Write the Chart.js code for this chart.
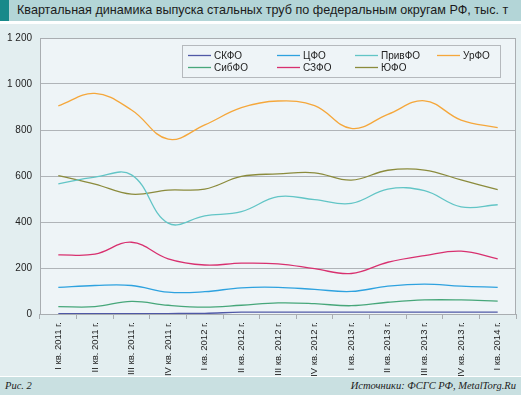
<!DOCTYPE html>
<html>
<head>
<meta charset="utf-8">
<script src="https://cdn.jsdelivr.net/npm/chart.js@4.4.0/dist/chart.umd.min.js"></script>
<style>
    body { margin: 0; background: #ffffff; width: 521px; height: 395px; overflow: hidden; position: relative; font-family: "Liberation Sans", Arial, sans-serif; }
    #title { position: absolute; left: 0; top: 0; width: 521px; height: 21px; background: #b3d5d7; }
    #title .sq { position: absolute; left: 0; top: 0; width: 9px; height: 21px; background: #17898a; }
    #title .txt { position: absolute; left: 17px; top: 3px; font-size: 12.6px; color: #1b1b1b; white-space: nowrap; }
    #wrap { position: absolute; left: 0; top: 24px; width: 521px; height: 352px; background: #e3eef0; }
    #foot { position: absolute; left: 0; top: 377px; width: 521px; height: 18px; background: #c9e0e1; font-family: "Liberation Serif", "Times New Roman", serif; font-style: italic; font-size: 10.5px; color: #222; }
    #foot .l { position: absolute; left: 5px; top: 3px; }
    #foot .r { position: absolute; right: 5px; top: 3px; }
</style>
</head>
<body>
<div id="title"><div class="sq"></div><div class="txt">Квартальная динамика выпуска стальных труб по федеральным округам РФ, тыс. т</div></div>
<div id="wrap"><canvas id="chart" width="521" height="352"></canvas></div>
<div id="foot"><span class="l">Рис. 2</span><span class="r">Источники: ФСГС РФ, MetalTorg.Ru</span></div>
<script>
// quarters
let quarters = [
    "I кв. 2011 г.", "II кв. 2011 г.", "III кв. 2011 г.", "IV кв. 2011 г.",
    "I кв. 2012 г.", "II кв. 2012 г.", "III кв. 2012 г.", "IV кв. 2012 г.",
    "I кв. 2013 г.", "II кв. 2013 г.", "III кв. 2013 г.", "IV кв. 2013 г.",
    "I кв. 2014 г."
];

// output by district, thousand tonnes
let SKFO   = [2, 2, 2, 2, 3, 8, 8, 8, 8, 8, 8, 8, 8];
let CFO    = [116, 124, 124, 95, 97, 114, 116, 107, 98, 121, 130, 121, 116];
let PrivFO = [566, 595, 605, 395, 427, 445, 510, 497, 481, 543, 536, 466, 475];
let UrFO   = [905, 959, 887, 760, 822, 897, 926, 906, 807, 868, 927, 843, 810];
let SibFO  = [32, 32, 55, 38, 30, 38, 48, 45, 36, 51, 61, 61, 56];
let SZFO   = [257, 260, 312, 240, 213, 221, 218, 197, 176, 225, 254, 273, 240];
let UFO    = [602, 565, 521, 539, 543, 598, 609, 614, 582, 625, 626, 583, 541];

let yTicks = [0, 200, 400, 600, 800, 1000, 1200];

function line(label, data, color)
{
    return {
        label: label,
        data: data,
        borderColor: color,
        backgroundColor: color,
        borderWidth: 1.3,
        pointRadius: 0,
        tension: 0.4,
        fill: false
    };
}

// plot background and frame
let frame = {
    id: "frame",
    beforeDraw: function(chart)
    {
        let a = chart.chartArea, c = chart.ctx;
        c.save();
        c.fillStyle = "#eef4f7";
        c.fillRect(a.left, a.top, a.right - a.left, a.bottom - a.top);
        c.restore();
    },
    afterDraw: function(chart)
    {
        let a = chart.chartArea, c = chart.ctx;
        c.save();
        c.strokeStyle = "#a9adb1";
        c.lineWidth = 1;
        c.strokeRect(a.left + 0.5, a.top + 0.5, a.right - a.left - 1, a.bottom - a.top);
        c.restore();
    }
};

// legend box inside the plot
let boxLegend = {
    id: "boxLegend",
    afterDraw: function(chart)
    {
        let c = chart.ctx;
        let sets = chart.data.datasets;
        let cols = [188, 277, 355, 437];
        let rows = [31.5, 43.5];
        c.save();
        c.fillStyle = "#eef4f7";
        c.fillRect(182, 21, 318, 32);
        c.strokeStyle = "#b5b9bd";
        c.lineWidth = 1;
        c.strokeRect(182.5, 21.5, 318, 32);
        c.font = "10px 'Liberation Sans', Arial, sans-serif";
        c.textBaseline = "middle";
        for(let i = 0; i < sets.length; i++)
        {
            let x = cols[i % 4], y = rows[Math.floor(i / 4)];
            c.strokeStyle = sets[i].borderColor;
            c.lineWidth = 1.3;
            c.beginPath();
            c.moveTo(x, y);
            c.lineTo(x + 23, y);
            c.stroke();
            c.fillStyle = "#222";
            c.fillText(sets[i].label, x + 26, y + 0.5);
        }
        c.restore();
    }
};

let ctx = document.getElementById("chart").getContext("2d");
let display = new Chart(ctx,
{
    type: "line",
    data:
    {
        labels: quarters,
        datasets: [
            line("СКФО", SKFO, "#4f58a6"),
            line("ЦФО", CFO, "#2ea2df"),
            line("ПривФО", PrivFO, "#62c5c6"),
            line("УрФО", UrFO, "#f5a73b"),
            line("СибФО", SibFO, "#47a77a"),
            line("СЗФО", SZFO, "#d8306f"),
            line("ЮФО", UFO, "#8b8b3c")
        ]
    },
    options:
    {
        responsive: false,
        animation: false,
        layout: { padding: { top: 11, right: 5, left: 0, bottom: 0 } },
        plugins: { legend: { display: false }, tooltip: { enabled: false } },
        scales:
        {
            x:
            {
                offset: true,
                grid: { offset: true, drawOnChartArea: false, drawTicks: true, tickLength: 5, color: "#a9adb1" },
                border: { display: false },
                ticks: {
                    minRotation: 90, maxRotation: 90, autoSkip: false, padding: 3,
                    color: "#222", font: { family: "'Liberation Sans', Arial, sans-serif", size: 9.5 }
                },
                afterFit: function(scale) { scale.height = 62; }
            },
            y:
            {
                min: 0,
                max: 1200,
                afterBuildTicks: function(scale) { scale.ticks = yTicks.map(function(v) { return { value: v }; }); },
                grid: { color: "#b0b4b8", drawTicks: false, lineWidth: 1 },
                border: { display: false },
                ticks: {
                    padding: 8, color: "#222",
                    font: { family: "'Liberation Sans', Arial, sans-serif", size: 10 },
                    callback: function(v) { return String(v).replace(/\B(?=(\d{3})+(?!\d))/g, " "); }
                },
                afterFit: function(scale) { scale.width = 40; }
            }
        }
    },
    plugins: [frame, boxLegend]
});
</script>
</body>
</html>
